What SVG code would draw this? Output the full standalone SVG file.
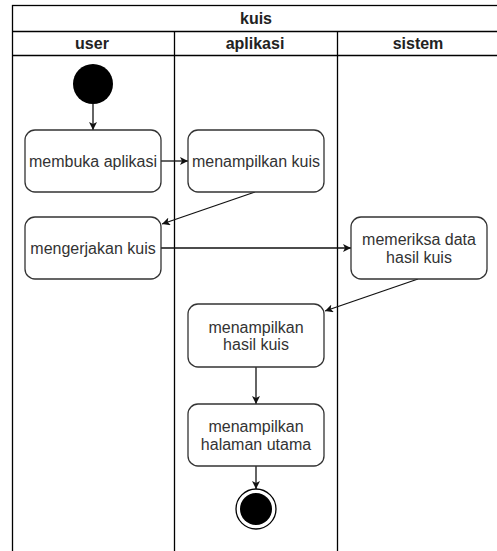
<svg xmlns="http://www.w3.org/2000/svg" width="497" height="551" viewBox="0 0 497 551">
<style>
.lane{fill:none;stroke:#000;stroke-width:1.3}
.hdr{font-family:"Liberation Sans",Arial,sans-serif;font-size:16px;font-weight:bold;fill:#222;text-anchor:middle}
.box{fill:#fff;stroke:#333;stroke-width:1.3}
.lbl{font-family:"Liberation Sans",Arial,sans-serif;font-size:16px;fill:#333;text-anchor:middle}
.edge{fill:none;stroke:#111;stroke-width:1.3}
</style>
<defs>
<marker id="arr" viewBox="0 0 10 10" refX="10" refY="5" markerWidth="8" markerHeight="8" markerUnits="userSpaceOnUse" orient="auto">
<path d="M0,0 L10,5 L0,10 L2.5,5 Z" fill="#111"/>
</marker>
</defs>
<rect width="497" height="551" fill="#fff"/>
<g id="pool">
<rect class="lane" x="12.5" y="5.5" width="488" height="560"/>
<line class="lane" x1="12.5" y1="31.5" x2="500.5" y2="31.5"/>
<line class="lane" x1="12.5" y1="55.5" x2="500.5" y2="55.5"/>
<line class="lane" x1="174.5" y1="31.5" x2="174.5" y2="560"/>
<line class="lane" x1="337.5" y1="31.5" x2="337.5" y2="560"/>
<text class="hdr" x="256" y="24">kuis</text>
<text class="hdr" x="92" y="49">user</text>
<text class="hdr" x="255" y="49">aplikasi</text>
<text class="hdr" x="418" y="49">sistem</text>
</g>
<g id="connectors">
<line class="edge" x1="93" y1="104" x2="93" y2="130" marker-end="url(#arr)"/>
<line class="edge" x1="161" y1="161" x2="188" y2="161" marker-end="url(#arr)"/>
<line class="edge" x1="255" y1="192" x2="162" y2="224" marker-end="url(#arr)"/>
<line class="edge" x1="161" y1="248" x2="351" y2="248" marker-end="url(#arr)"/>
<line class="edge" x1="418" y1="279" x2="325" y2="311" marker-end="url(#arr)"/>
<line class="edge" x1="256" y1="367" x2="256" y2="404" marker-end="url(#arr)"/>
<line class="edge" x1="256" y1="466" x2="256" y2="489" marker-end="url(#arr)"/>
</g>
<g id="start">
<circle cx="93" cy="84" r="20" fill="#000"/>
</g>
<g id="membuka-aplikasi">
<rect class="box" x="25" y="130" width="136" height="62" rx="10"/>
<text class="lbl" x="93" y="166.5">membuka aplikasi</text>
</g>
<g id="menampilkan-kuis">
<rect class="box" x="188" y="130" width="136" height="62" rx="10"/>
<text class="lbl" x="256" y="166.5">menampilkan kuis</text>
</g>
<g id="mengerjakan-kuis">
<rect class="box" x="25" y="217" width="136" height="62" rx="10"/>
<text class="lbl" x="93" y="253.5">mengerjakan kuis</text>
</g>
<g id="memeriksa-data">
<rect class="box" x="351" y="217" width="136" height="62" rx="10"/>
<text class="lbl" x="419" y="245">memeriksa data</text>
<text class="lbl" x="419" y="262.5">hasil kuis</text>
</g>
<g id="menampilkan-hasil">
<rect class="box" x="188" y="304" width="136" height="63" rx="10"/>
<text class="lbl" x="256" y="332.5">menampilkan</text>
<text class="lbl" x="256" y="350">hasil kuis</text>
</g>
<g id="menampilkan-halaman">
<rect class="box" x="188" y="404" width="136" height="62" rx="10"/>
<text class="lbl" x="256" y="432">menampilkan</text>
<text class="lbl" x="256" y="449.5">halaman utama</text>
</g>
<g id="end">
<circle cx="256" cy="509" r="20" fill="#fff" stroke="#000" stroke-width="1.3"/>
<circle cx="256" cy="509" r="16" fill="#000"/>
</g>
</svg>
